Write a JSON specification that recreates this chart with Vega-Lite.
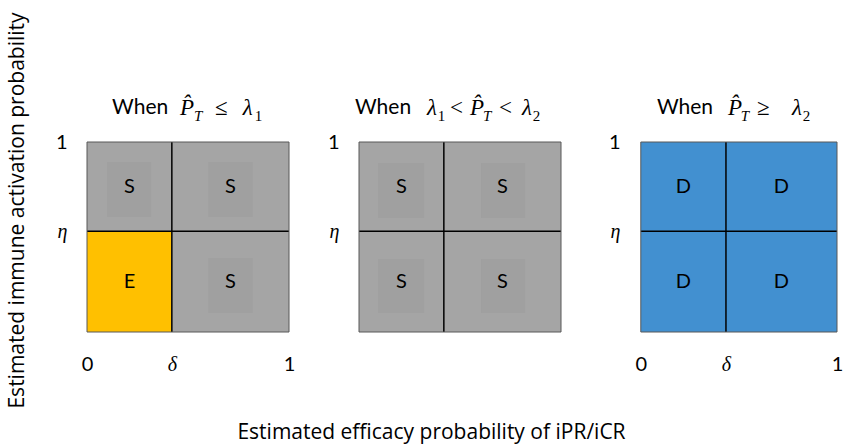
{
  "$schema": "https://vega.github.io/schema/vega-lite/v6.json",
  "background": "white",
  "padding": {"left": 5, "top": 11, "right": 0, "bottom": 10},
  "config": {
    "view": {"stroke": null},
    "axis": {"grid": false, "ticks": false, "domain": false, "labelFontSize": 20, "labelColor": "black", "labelFont": "Lato", "titleFont": "Open Sans", "titleFontSize": 21, "titleFontWeight": "normal", "titleColor": "black"}
  },
  "datasets": {
    "c1": [
      {"x0": 0, "x1": 0.42, "y0": 0.53, "y1": 1, "k": "S"},
      {"x0": 0.42, "x1": 1, "y0": 0.53, "y1": 1, "k": "S"},
      {"x0": 0, "x1": 0.42, "y0": 0, "y1": 0.53, "k": "E"},
      {"x0": 0.42, "x1": 1, "y0": 0, "y1": 0.53, "k": "S"}
    ],
    "c2": [
      {"x0": 0, "x1": 0.42, "y0": 0.53, "y1": 1, "k": "S"},
      {"x0": 0.42, "x1": 1, "y0": 0.53, "y1": 1, "k": "S"},
      {"x0": 0, "x1": 0.42, "y0": 0, "y1": 0.53, "k": "S"},
      {"x0": 0.42, "x1": 1, "y0": 0, "y1": 0.53, "k": "S"}
    ],
    "c3": [
      {"x0": 0, "x1": 0.434, "y0": 0.53, "y1": 1, "k": "D"},
      {"x0": 0.434, "x1": 1, "y0": 0.53, "y1": 1, "k": "D"},
      {"x0": 0, "x1": 0.434, "y0": 0, "y1": 0.53, "k": "D"},
      {"x0": 0.434, "x1": 1, "y0": 0, "y1": 0.53, "k": "D"}
    ],
    "i1": [
      {"x0": 0.099, "x1": 0.317, "y0": 0.605, "y1": 0.895},
      {"x0": 0.6, "x1": 0.82, "y0": 0.605, "y1": 0.895},
      {"x0": 0.6, "x1": 0.82, "y0": 0.1, "y1": 0.39}
    ],
    "i2": [
      {"x0": 0.094, "x1": 0.322, "y0": 0.6, "y1": 0.889},
      {"x0": 0.604, "x1": 0.822, "y0": 0.6, "y1": 0.889},
      {"x0": 0.094, "x1": 0.322, "y0": 0.1, "y1": 0.384},
      {"x0": 0.604, "x1": 0.822, "y0": 0.1, "y1": 0.384}
    ],
    "t1": [
      {"s": "When", "p": 0.124, "r": "w"},
      {"s": "P̂", "p": 0.46, "r": "m"},
      {"s": "T", "p": 0.53, "r": "si"},
      {"s": "≤", "p": 0.634, "r": "o"},
      {"s": "λ", "p": 0.771, "r": "m"},
      {"s": "1", "p": 0.83, "r": "sd"}
    ],
    "t2": [
      {"s": "When", "p": -0.02, "r": "w"},
      {"s": "λ", "p": 0.337, "r": "m"},
      {"s": "1", "p": 0.39, "r": "sd"},
      {"s": "<", "p": 0.45, "r": "o"},
      {"s": "P̂", "p": 0.55, "r": "m"},
      {"s": "T", "p": 0.614, "r": "si"},
      {"s": "<", "p": 0.693, "r": "o"},
      {"s": "λ", "p": 0.807, "r": "m"},
      {"s": "2", "p": 0.86, "r": "sd"}
    ],
    "t3": [
      {"s": "When", "p": 0.082, "r": "w"},
      {"s": "P̂", "p": 0.444, "r": "m"},
      {"s": "T", "p": 0.51, "r": "si"},
      {"s": "≥", "p": 0.592, "r": "o"},
      {"s": "λ", "p": 0.77, "r": "m"},
      {"s": "2", "p": 0.826, "r": "sd"}
    ]
  },
  "hconcat": [
    {
      "width": 202, "height": 190,
      "layer": [
        {"data": {"name": "c1"}, "mark": {"type": "rect"},
          "encoding": {
            "x": {"field": "x0", "type": "quantitative", "scale": {"domain": [0, 1], "nice": false, "zero": false},
              "axis": {"values": [0, 0.42, 1], "labelExpr": "datum.value == 0 ? '0' : datum.value == 1 ? '1' : 'δ'", "labelFont": {"condition": {"test": "datum.value > 0 && datum.value < 1", "value": "Liberation Serif"}, "value": "Lato"}, "labelFontStyle": {"condition": {"test": "datum.value > 0 && datum.value < 1", "value": "italic"}, "value": "normal"}, "labelPadding": 22, "labelFlush": false, "labelOverlap": false, "labelBound": false, "title": null}},
            "x2": {"field": "x1"},
            "y": {"field": "y0", "type": "quantitative", "scale": {"domain": [0, 1], "nice": false, "zero": false},
              "axis": {"values": [0.53, 1], "labelExpr": "datum.value == 1 ? '1' : 'η'", "labelFont": {"condition": {"test": "datum.value < 1", "value": "Liberation Serif"}, "value": "Lato"}, "labelFontStyle": {"condition": {"test": "datum.value < 1", "value": "italic"}, "value": "normal"}, "labelPadding": 20, "labelFlush": false, "labelOverlap": false, "labelBound": false,
                "title": "Estimated immune activation probability", "titleX": -70, "titleY": 68, "titleAngle": -90, "titleAlign": "center", "titleBaseline": "middle"}},
            "y2": {"field": "y1"},
            "color": {"field": "k", "type": "nominal", "scale": {"domain": ["S", "E", "D"], "range": ["#A5A5A5", "#FFC000", "#4290D0"]}, "legend": null}
          }},
        {"data": {"name": "i1"}, "mark": {"type": "rect", "color": "#A0A0A0"},
          "encoding": {
            "x": {"field": "x0", "type": "quantitative", "scale": {"domain": [0, 1], "nice": false, "zero": false}},
            "x2": {"field": "x1"},
            "y": {"field": "y0", "type": "quantitative", "scale": {"domain": [0, 1], "nice": false, "zero": false}},
            "y2": {"field": "y1"}
          }},
        {"data": {"name": "c1"},
          "transform": [{"calculate": "(datum.x0 + datum.x1) / 2", "as": "cx"}, {"calculate": "(datum.y0 + datum.y1) / 2", "as": "cy"}],
          "mark": {"type": "text", "font": "Lato", "fontSize": 20, "color": "black"},
          "encoding": {
            "x": {"field": "cx", "type": "quantitative", "scale": {"domain": [0, 1], "nice": false, "zero": false}},
            "y": {"field": "cy", "type": "quantitative", "scale": {"domain": [0, 1], "nice": false, "zero": false}},
            "text": {"field": "k"}
          }},
        {"data": {"values": [{}]}, "mark": {"type": "rule", "color": "black", "strokeWidth": 1.5},
          "encoding": {"x": {"datum": 0.42, "type": "quantitative", "scale": {"domain": [0, 1], "nice": false, "zero": false}}}},
        {"data": {"values": [{}]}, "mark": {"type": "rule", "color": "black", "strokeWidth": 1.5},
          "encoding": {"y": {"datum": 0.53, "type": "quantitative", "scale": {"domain": [0, 1], "nice": false, "zero": false}}}},
        {"data": {"values": [{}]}, "mark": {"type": "rect", "fill": "transparent", "stroke": "#595959", "strokeWidth": 1},
          "encoding": {
            "x": {"datum": 0, "type": "quantitative", "scale": {"domain": [0, 1], "nice": false, "zero": false}},
            "x2": {"datum": 1},
            "y": {"datum": 0, "type": "quantitative", "scale": {"domain": [0, 1], "nice": false, "zero": false}},
            "y2": {"datum": 1}
          }},
        {"data": {"name": "t1"}, "transform": [{"filter": "datum.r == 'w'"}],
          "mark": {"type": "text", "font": "Lato", "fontSize": 21, "align": "left", "baseline": "middle", "color": "black"},
          "encoding": {"x": {"field": "p", "type": "quantitative", "scale": {"domain": [0, 1], "nice": false, "zero": false}}, "y": {"datum": 1.18, "type": "quantitative", "scale": {"domain": [0, 1], "nice": false, "zero": false}}, "text": {"field": "s"}}},
        {"data": {"name": "t1"}, "transform": [{"filter": "datum.r == 'm'"}],
          "mark": {"type": "text", "font": "Liberation Serif", "fontStyle": "italic", "fontSize": 23, "align": "left", "baseline": "middle", "color": "black"},
          "encoding": {"x": {"field": "p", "type": "quantitative", "scale": {"domain": [0, 1], "nice": false, "zero": false}}, "y": {"datum": 1.18, "type": "quantitative", "scale": {"domain": [0, 1], "nice": false, "zero": false}}, "text": {"field": "s"}}},
        {"data": {"name": "t1"}, "transform": [{"filter": "datum.r == 'o'"}],
          "mark": {"type": "text", "font": "Liberation Serif", "fontSize": 23, "align": "left", "baseline": "middle", "color": "black"},
          "encoding": {"x": {"field": "p", "type": "quantitative", "scale": {"domain": [0, 1], "nice": false, "zero": false}}, "y": {"datum": 1.18, "type": "quantitative", "scale": {"domain": [0, 1], "nice": false, "zero": false}}, "text": {"field": "s"}}},
        {"data": {"name": "t1"}, "transform": [{"filter": "datum.r == 'si'"}],
          "mark": {"type": "text", "font": "Liberation Serif", "fontStyle": "italic", "fontSize": 15, "align": "left", "baseline": "middle", "dy": 8, "color": "black"},
          "encoding": {"x": {"field": "p", "type": "quantitative", "scale": {"domain": [0, 1], "nice": false, "zero": false}}, "y": {"datum": 1.18, "type": "quantitative", "scale": {"domain": [0, 1], "nice": false, "zero": false}}, "text": {"field": "s"}}},
        {"data": {"name": "t1"}, "transform": [{"filter": "datum.r == 'sd'"}],
          "mark": {"type": "text", "font": "Liberation Serif", "fontSize": 15, "align": "left", "baseline": "middle", "dy": 8, "color": "black"},
          "encoding": {"x": {"field": "p", "type": "quantitative", "scale": {"domain": [0, 1], "nice": false, "zero": false}}, "y": {"datum": 1.18, "type": "quantitative", "scale": {"domain": [0, 1], "nice": false, "zero": false}}, "text": {"field": "s"}}}
      ]
    },
    {
      "width": 202, "height": 190,
      "layer": [
        {"data": {"name": "c2"}, "mark": {"type": "rect"},
          "encoding": {
            "x": {"field": "x0", "type": "quantitative", "scale": {"domain": [0, 1], "nice": false, "zero": false},
              "axis": {"values": [0, 0.42, 1], "labelExpr": "datum.value == 0 ? '0' : datum.value == 1 ? '1' : 'δ'", "labelPadding": 22, "labelFlush": false, "labelOverlap": false, "labelBound": false,
                "labelOpacity": 0,
                "title": "Estimated efficacy probability of iPR/iCR", "titleX": 72, "titleY": 100, "titleAlign": "center", "titleBaseline": "middle"}},
            "x2": {"field": "x1"},
            "y": {"field": "y0", "type": "quantitative", "scale": {"domain": [0, 1], "nice": false, "zero": false},
              "axis": {"values": [0.53, 1], "labelExpr": "datum.value == 1 ? '1' : 'η'", "labelFont": {"condition": {"test": "datum.value < 1", "value": "Liberation Serif"}, "value": "Lato"}, "labelFontStyle": {"condition": {"test": "datum.value < 1", "value": "italic"}, "value": "normal"}, "labelPadding": 20, "labelFlush": false, "labelOverlap": false, "labelBound": false, "title": null}},
            "y2": {"field": "y1"},
            "color": {"field": "k", "type": "nominal", "scale": {"domain": ["S", "E", "D"], "range": ["#A5A5A5", "#FFC000", "#4290D0"]}, "legend": null}
          }},
        {"data": {"name": "i2"}, "mark": {"type": "rect", "color": "#A0A0A0"},
          "encoding": {
            "x": {"field": "x0", "type": "quantitative", "scale": {"domain": [0, 1], "nice": false, "zero": false}},
            "x2": {"field": "x1"},
            "y": {"field": "y0", "type": "quantitative", "scale": {"domain": [0, 1], "nice": false, "zero": false}},
            "y2": {"field": "y1"}
          }},
        {"data": {"name": "c2"},
          "transform": [{"calculate": "(datum.x0 + datum.x1) / 2", "as": "cx"}, {"calculate": "(datum.y0 + datum.y1) / 2", "as": "cy"}],
          "mark": {"type": "text", "font": "Lato", "fontSize": 20, "color": "black"},
          "encoding": {
            "x": {"field": "cx", "type": "quantitative", "scale": {"domain": [0, 1], "nice": false, "zero": false}},
            "y": {"field": "cy", "type": "quantitative", "scale": {"domain": [0, 1], "nice": false, "zero": false}},
            "text": {"field": "k"}
          }},
        {"data": {"values": [{}]}, "mark": {"type": "rule", "color": "black", "strokeWidth": 1.5},
          "encoding": {"x": {"datum": 0.42, "type": "quantitative", "scale": {"domain": [0, 1], "nice": false, "zero": false}}}},
        {"data": {"values": [{}]}, "mark": {"type": "rule", "color": "black", "strokeWidth": 1.5},
          "encoding": {"y": {"datum": 0.53, "type": "quantitative", "scale": {"domain": [0, 1], "nice": false, "zero": false}}}},
        {"data": {"values": [{}]}, "mark": {"type": "rect", "fill": "transparent", "stroke": "#595959", "strokeWidth": 1},
          "encoding": {
            "x": {"datum": 0, "type": "quantitative", "scale": {"domain": [0, 1], "nice": false, "zero": false}},
            "x2": {"datum": 1},
            "y": {"datum": 0, "type": "quantitative", "scale": {"domain": [0, 1], "nice": false, "zero": false}},
            "y2": {"datum": 1}
          }},
        {"data": {"name": "t2"}, "transform": [{"filter": "datum.r == 'w'"}],
          "mark": {"type": "text", "font": "Lato", "fontSize": 21, "align": "left", "baseline": "middle", "color": "black"},
          "encoding": {"x": {"field": "p", "type": "quantitative", "scale": {"domain": [0, 1], "nice": false, "zero": false}}, "y": {"datum": 1.18, "type": "quantitative", "scale": {"domain": [0, 1], "nice": false, "zero": false}}, "text": {"field": "s"}}},
        {"data": {"name": "t2"}, "transform": [{"filter": "datum.r == 'm'"}],
          "mark": {"type": "text", "font": "Liberation Serif", "fontStyle": "italic", "fontSize": 23, "align": "left", "baseline": "middle", "color": "black"},
          "encoding": {"x": {"field": "p", "type": "quantitative", "scale": {"domain": [0, 1], "nice": false, "zero": false}}, "y": {"datum": 1.18, "type": "quantitative", "scale": {"domain": [0, 1], "nice": false, "zero": false}}, "text": {"field": "s"}}},
        {"data": {"name": "t2"}, "transform": [{"filter": "datum.r == 'o'"}],
          "mark": {"type": "text", "font": "Liberation Serif", "fontSize": 23, "align": "left", "baseline": "middle", "color": "black"},
          "encoding": {"x": {"field": "p", "type": "quantitative", "scale": {"domain": [0, 1], "nice": false, "zero": false}}, "y": {"datum": 1.18, "type": "quantitative", "scale": {"domain": [0, 1], "nice": false, "zero": false}}, "text": {"field": "s"}}},
        {"data": {"name": "t2"}, "transform": [{"filter": "datum.r == 'si'"}],
          "mark": {"type": "text", "font": "Liberation Serif", "fontStyle": "italic", "fontSize": 15, "align": "left", "baseline": "middle", "dy": 8, "color": "black"},
          "encoding": {"x": {"field": "p", "type": "quantitative", "scale": {"domain": [0, 1], "nice": false, "zero": false}}, "y": {"datum": 1.18, "type": "quantitative", "scale": {"domain": [0, 1], "nice": false, "zero": false}}, "text": {"field": "s"}}},
        {"data": {"name": "t2"}, "transform": [{"filter": "datum.r == 'sd'"}],
          "mark": {"type": "text", "font": "Liberation Serif", "fontSize": 15, "align": "left", "baseline": "middle", "dy": 8, "color": "black"},
          "encoding": {"x": {"field": "p", "type": "quantitative", "scale": {"domain": [0, 1], "nice": false, "zero": false}}, "y": {"datum": 1.18, "type": "quantitative", "scale": {"domain": [0, 1], "nice": false, "zero": false}}, "text": {"field": "s"}}}
      ]
    },
    {
      "width": 206, "height": 190,
      "layer": [
        {"data": {"name": "c3"}, "mark": {"type": "rect"},
          "encoding": {
            "x": {"field": "x0", "type": "quantitative", "scale": {"domain": [-0.05, 1], "nice": false, "zero": false},
              "axis": {"values": [0, 0.434, 1], "labelExpr": "datum.value == 0 ? '0' : datum.value == 1 ? '1' : 'δ'", "labelFont": {"condition": {"test": "datum.value > 0 && datum.value < 1", "value": "Liberation Serif"}, "value": "Lato"}, "labelFontStyle": {"condition": {"test": "datum.value > 0 && datum.value < 1", "value": "italic"}, "value": "normal"}, "labelPadding": 22, "labelFlush": false, "labelOverlap": false, "labelBound": false, "title": null}},
            "x2": {"field": "x1"},
            "y": {"field": "y0", "type": "quantitative", "scale": {"domain": [0, 1], "nice": false, "zero": false},
              "axis": {"values": [0.53, 1], "labelExpr": "datum.value == 1 ? '1' : 'η'", "labelFont": {"condition": {"test": "datum.value < 1", "value": "Liberation Serif"}, "value": "Lato"}, "labelFontStyle": {"condition": {"test": "datum.value < 1", "value": "italic"}, "value": "normal"}, "labelPadding": 11, "labelFlush": false, "labelOverlap": false, "labelBound": false, "title": null}},
            "y2": {"field": "y1"},
            "color": {"field": "k", "type": "nominal", "scale": {"domain": ["S", "E", "D"], "range": ["#A5A5A5", "#FFC000", "#4290D0"]}, "legend": null}
          }},
        {"data": {"name": "c3"},
          "transform": [{"calculate": "(datum.x0 + datum.x1) / 2", "as": "cx"}, {"calculate": "(datum.y0 + datum.y1) / 2", "as": "cy"}],
          "mark": {"type": "text", "font": "Lato", "fontSize": 20, "color": "black"},
          "encoding": {
            "x": {"field": "cx", "type": "quantitative", "scale": {"domain": [-0.05, 1], "nice": false, "zero": false}},
            "y": {"field": "cy", "type": "quantitative", "scale": {"domain": [0, 1], "nice": false, "zero": false}},
            "text": {"field": "k"}
          }},
        {"data": {"values": [{}]}, "mark": {"type": "rule", "color": "black", "strokeWidth": 1.5},
          "encoding": {"x": {"datum": 0.434, "type": "quantitative", "scale": {"domain": [-0.05, 1], "nice": false, "zero": false}}}},
        {"data": {"values": [{}]}, "mark": {"type": "rule", "color": "black", "strokeWidth": 1.5},
          "encoding": {
            "x": {"datum": 0, "type": "quantitative", "scale": {"domain": [-0.05, 1], "nice": false, "zero": false}},
            "x2": {"datum": 1},
            "y": {"datum": 0.53, "type": "quantitative", "scale": {"domain": [0, 1], "nice": false, "zero": false}}}},
        {"data": {"values": [{}]}, "mark": {"type": "rect", "fill": "transparent", "stroke": "#595959", "strokeWidth": 1},
          "encoding": {
            "x": {"datum": 0, "type": "quantitative", "scale": {"domain": [-0.05, 1], "nice": false, "zero": false}},
            "x2": {"datum": 1},
            "y": {"datum": 0, "type": "quantitative", "scale": {"domain": [0, 1], "nice": false, "zero": false}},
            "y2": {"datum": 1}
          }},
        {"data": {"name": "t3"}, "transform": [{"filter": "datum.r == 'w'"}],
          "mark": {"type": "text", "font": "Lato", "fontSize": 21, "align": "left", "baseline": "middle", "color": "black"},
          "encoding": {"x": {"field": "p", "type": "quantitative", "scale": {"domain": [-0.05, 1], "nice": false, "zero": false}}, "y": {"datum": 1.18, "type": "quantitative", "scale": {"domain": [0, 1], "nice": false, "zero": false}}, "text": {"field": "s"}}},
        {"data": {"name": "t3"}, "transform": [{"filter": "datum.r == 'm'"}],
          "mark": {"type": "text", "font": "Liberation Serif", "fontStyle": "italic", "fontSize": 23, "align": "left", "baseline": "middle", "color": "black"},
          "encoding": {"x": {"field": "p", "type": "quantitative", "scale": {"domain": [-0.05, 1], "nice": false, "zero": false}}, "y": {"datum": 1.18, "type": "quantitative", "scale": {"domain": [0, 1], "nice": false, "zero": false}}, "text": {"field": "s"}}},
        {"data": {"name": "t3"}, "transform": [{"filter": "datum.r == 'o'"}],
          "mark": {"type": "text", "font": "Liberation Serif", "fontSize": 23, "align": "left", "baseline": "middle", "color": "black"},
          "encoding": {"x": {"field": "p", "type": "quantitative", "scale": {"domain": [-0.05, 1], "nice": false, "zero": false}}, "y": {"datum": 1.18, "type": "quantitative", "scale": {"domain": [0, 1], "nice": false, "zero": false}}, "text": {"field": "s"}}},
        {"data": {"name": "t3"}, "transform": [{"filter": "datum.r == 'si'"}],
          "mark": {"type": "text", "font": "Liberation Serif", "fontStyle": "italic", "fontSize": 15, "align": "left", "baseline": "middle", "dy": 8, "color": "black"},
          "encoding": {"x": {"field": "p", "type": "quantitative", "scale": {"domain": [-0.05, 1], "nice": false, "zero": false}}, "y": {"datum": 1.18, "type": "quantitative", "scale": {"domain": [0, 1], "nice": false, "zero": false}}, "text": {"field": "s"}}},
        {"data": {"name": "t3"}, "transform": [{"filter": "datum.r == 'sd'"}],
          "mark": {"type": "text", "font": "Liberation Serif", "fontSize": 15, "align": "left", "baseline": "middle", "dy": 8, "color": "black"},
          "encoding": {"x": {"field": "p", "type": "quantitative", "scale": {"domain": [-0.05, 1], "nice": false, "zero": false}}, "y": {"datum": 1.18, "type": "quantitative", "scale": {"domain": [0, 1], "nice": false, "zero": false}}, "text": {"field": "s"}}}
      ]
    }
  ],
  "spacing": 70,
  "bounds": "flush"
}
